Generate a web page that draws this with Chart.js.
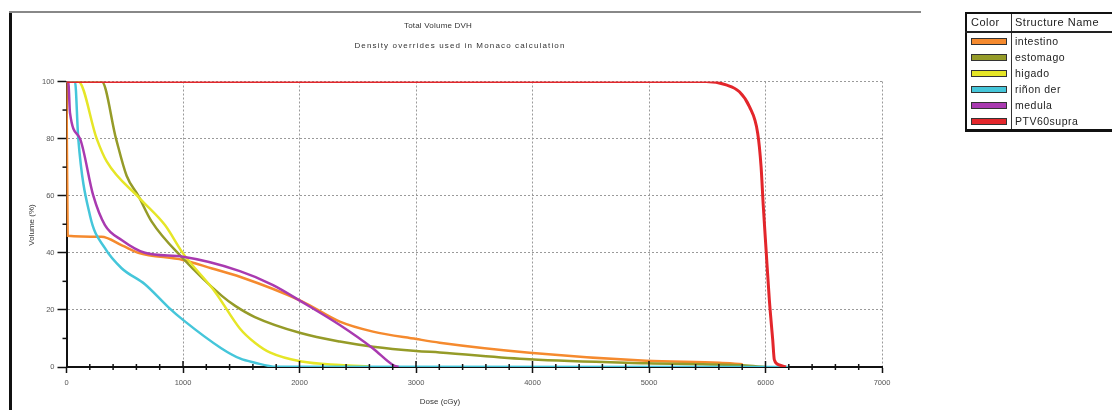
<!DOCTYPE html>
<html>
<head>
<meta charset="utf-8">
<script src="https://cdn.jsdelivr.net/npm/chart.js@4.4.1/dist/chart.umd.min.js"></script>
<style>
  body { margin:0; background:#fff; width:1112px; height:410px; overflow:hidden; font-family:"Liberation Sans", Arial, sans-serif; }
  #wrap { position:absolute; left:0; top:0; width:1112px; height:410px; }
  .frameL { position:absolute; left:9px; top:12px; width:3px; height:398px; background:#111; }
  .frameT { position:absolute; left:9px; top:11px; width:912px; height:2px; background:#888; }
  .ttl { position:absolute; font-size:8px; color:#333; white-space:nowrap; transform:translateX(-50%); }
  .ylab { position:absolute; left:31px; top:225px; font-size:8px; color:#333; white-space:nowrap; transform:translate(-50%,-50%) rotate(-90deg); }
  .xlab { position:absolute; left:440px; top:397px; font-size:8px; color:#333; white-space:nowrap; transform:translateX(-50%); }
  #legend { position:absolute; left:965px; top:12px; width:170px; border-collapse:collapse; font-size:10.5px; letter-spacing:0.5px; color:#222; }
  #legend td { padding:0 3px; height:16px; line-height:13px; }
  #legend tr.hd td { height:17px; border-bottom:2px solid #222; font-size:11px; letter-spacing:0.5px; }
  #legend { border-left:2px solid #111; border-top:2px solid #111; border-bottom:3px solid #111; }
  #legend td.c { width:37px; border-right:1px solid #333; padding:0 3px 0 4px; }
  .sw { width:34px; height:5px; border:1px solid #333; }
</style>
</head>
<body>
<div id="wrap">
  <canvas id="chart" width="1112" height="410"></canvas>
</div>
<div class="frameL"></div>
<div class="frameT"></div>
<div class="ttl" style="left:438px; top:21px; letter-spacing:0.2px;">Total Volume DVH</div>
<div class="ttl" style="left:460px; top:41px; letter-spacing:1.15px;">Density overrides used in Monaco calculation</div>
<div class="ylab">Volume (%)</div>
<div class="xlab">Dose (cGy)</div>
<table id="legend"></table>
<script>
// ─── DATA ─────────────────────────────────────────────────────────────────────
const structNames = ['intestino', 'estomago', 'higado', 'riñon der', 'medula', 'PTV60supra'];
const structColors = ['#f58a2e', '#959b28', '#e6e627', '#45c6da', '#a93ab0', '#e3262b'];

const intestinoDose = [0, 10, 300, 480, 616, 1000, 1250, 1488, 2017, 2346, 2631, 3003, 3203, 3975, 4976, 5604, 5804];
const intestinoVol  = [100, 46, 45.6, 42.5, 40, 37.5, 34.5, 31.6, 23.1, 15.9, 12.4, 9.8, 8.5, 5, 2.2, 1.5, 1];

const estomagoDose = [0, 302, 425, 516, 616, 730, 1000, 1331, 1445, 1617, 2017, 2346, 2631, 3003, 3203, 3975, 4976, 5804, 6000];
const estomagoVol  = [100, 100, 80, 67, 60, 51, 38, 25, 21.5, 17.5, 11.8, 8.9, 7.1, 5.6, 5.1, 2.7, 1.3, 0.6, 0];

const higadoDose = [0, 101, 259, 345, 630, 845, 1000, 1274, 1488, 1617, 1750, 2017, 2346, 2600];
const higadoVol  = [100, 100, 80, 72, 59, 49.7, 39.8, 26.4, 13.5, 8.5, 5, 1.9, 0.7, 0.2];

const rinonDose = [0, 73, 101, 202, 330, 473, 673, 873, 1000, 1331, 1488, 1617, 1800, 6200];
const rinonVol  = [100, 100, 80, 53, 41.6, 34.6, 29, 21, 16.5, 6.5, 3, 1.5, 0.1, 0];

const medulaDose = [0, 15, 30, 116, 230, 330, 473, 673, 1000, 1488, 1773, 2017, 2346, 2631, 2803, 2850];
const medulaVol  = [100, 100, 89, 80, 60, 49.7, 44.5, 40, 38.6, 33.6, 28.7, 22.9, 14.7, 6.5, 0.7, 0];

const ptvDose = [0, 5490, 5662, 5776, 5862, 5933, 5962, 5980, 6005, 6033, 6062, 6076, 6119, 6176];
const ptvVol  = [100, 100, 98.8, 96.4, 91.2, 81.9, 70.2, 57, 41, 23.5, 9.5, 2.5, 0.7, 0];

const xTicks = [0, 1000, 2000, 3000, 4000, 5000, 6000, 7000];
const yTicks = [0, 20, 40, 60, 80, 100];

// ─── LEGEND TABLE ─────────────────────────────────────────────────────────────
const leg = document.getElementById('legend');
leg.innerHTML = '<tr class="hd"><td class="c">Color</td><td>Structure Name</td></tr>' +
  structNames.map((n, i) => `<tr><td class="c"><div class="sw" style="background:${structColors[i]}"></div></td><td>${n}</td></tr>`).join('');

// ─── CHART ────────────────────────────────────────────────────────────────────
const pts = (xs, ys) => xs.map((x, i) => ({ x, y: ys[i] }));
const series = [
  [intestinoDose, intestinoVol], [estomagoDose, estomagoVol], [higadoDose, higadoVol],
  [rinonDose, rinonVol], [medulaDose, medulaVol], [ptvDose, ptvVol]
];
const drawOrder = [5, 4, 3, 2, 1, 0];   // first dataset is painted on top

const minorTicks = {
  id: 'minorTicks',
  afterDraw(chart) {
    const { ctx, chartArea: a, scales: { x, y } } = chart;
    ctx.save();
    ctx.strokeStyle = '#111';
    ctx.lineWidth = 1.5;
    for (let v = 200; v < 7000; v += 200) {
      const px = x.getPixelForValue(v);
      const major = v % 1000 === 0;
      ctx.beginPath();
      ctx.moveTo(px, a.bottom - (major ? 6 : 3));
      ctx.lineTo(px, a.bottom + (major ? 0 : 3));
      ctx.stroke();
    }
    for (let v = 10; v < 100; v += 20) {
      const py = y.getPixelForValue(v);
      ctx.beginPath();
      ctx.moveTo(a.left - 4, py);
      ctx.lineTo(a.left, py);
      ctx.stroke();
    }
    ctx.restore();
  }
};

const gridOpts = (len) => ({ color: '#9a9a9a', lineWidth: 1, tickColor: '#111', tickLength: len, tickBorderDash: [], tickWidth: 1.5 });
const borderOpts = { display: true, color: '#111', width: 2, dash: [2, 2] };

new Chart(document.getElementById('chart'), {
  type: 'line',
  data: {
    datasets: drawOrder.map(i => ({
      label: structNames[i],
      data: pts(series[i][0], series[i][1]),
      borderColor: structColors[i],
      borderWidth: i === 5 ? 3 : 2.5,
      pointRadius: 0,
      cubicInterpolationMode: 'monotone',
      fill: false
    }))
  },
  options: {
    responsive: false,
    animation: false,
    devicePixelRatio: 1,
    layout: { padding: { left: 0, top: 81.5, right: 230, bottom: 0 } },
    plugins: { legend: { display: false }, tooltip: { enabled: false }, title: { display: false } },
    scales: {
      x: {
        type: 'linear', min: 0, max: 7000,
        afterBuildTicks: s => { s.ticks = xTicks.map(v => ({ value: v })); },
        afterFit: s => { s.height = 43; },
        ticks: { color: '#555', font: { size: 7.5 }, padding: 5, maxRotation: 0, callback: v => String(v) },
        grid: gridOpts(6),
        border: borderOpts
      },
      y: {
        type: 'linear', min: 0, max: 100,
        afterBuildTicks: s => { s.ticks = yTicks.map(v => ({ value: v })); },
        afterFit: s => { s.width = 66.5; },
        ticks: { color: '#555', font: { size: 7.5 }, padding: 3, callback: v => String(v) },
        grid: gridOpts(9),
        border: borderOpts
      }
    }
  },
  plugins: [minorTicks]
});
</script>
</body>
</html>
